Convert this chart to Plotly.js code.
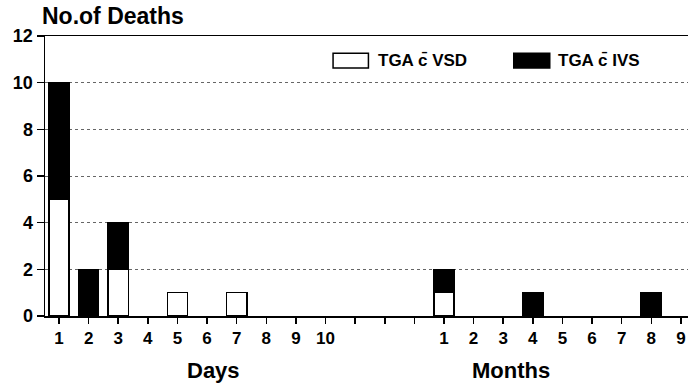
<!DOCTYPE html>
<html>
<head>
<meta charset="utf-8">
<script src="https://cdn.plot.ly/plotly-3.0.1.min.js"></script>
<style>html,body{margin:0;padding:0;background:#fff;}#chart{width:690px;height:384px;}</style>
</head>
<body>
<div id="chart"></div>
<script>
// Category positions: Days 1-10, three unlabeled gap ticks, Months 1-9
const tickLabels = ["1","2","3","4","5","6","7","8","9","10","","","","1","2","3","4","5","6","7","8","9"];
const positions = tickLabels.map((_, i) => i);
const vsdDeaths = [5,0,2,0,1,0,1,0,0,0, 0,0,0, 1,0,0,0,0,0,0,0,0];
const ivsDeaths = [5,2,2,0,0,0,0,0,0,0, 0,0,0, 1,0,0,1,0,0,0,1,0];
const seriesNames = ["TGA c\u0304 VSD", "TGA c\u0304 IVS"];
const yTicks = [0,2,4,6,8,10,12];

const font = {family: "Liberation Sans, Arial, sans-serif", color: "#000"};
const nz = v => (v === 0 ? null : v);

const traces = [
  {type: "bar", x: positions, y: vsdDeaths.map(nz), name: seriesNames[0], width: 0.68,
   marker: {color: "#fff", line: {color: "#000", width: 1.5}}, showlegend: false, hoverinfo: "skip"},
  {type: "bar", x: positions, y: ivsDeaths.map(nz), name: seriesNames[1], width: 0.68,
   marker: {color: "#000", line: {color: "#000", width: 1.5}}, showlegend: false, hoverinfo: "skip"}
];

const layout = {
  width: 690, height: 384,
  margin: {l: 45, r: 2, t: 36, b: 68},
  paper_bgcolor: "#fff", plot_bgcolor: "#fff",
  barmode: "stack",
  font: font,
  xaxis: {
    range: [-0.473, 21.24], tickmode: "array", tickvals: positions, ticktext: tickLabels,
    ticks: "outside", ticklen: 6, tickwidth: 1.5, tickcolor: "#000",
    showline: true, linecolor: "#000", linewidth: 1.5, mirror: true,
    showgrid: false, zeroline: false,
    tickfont: {family: font.family, size: 17, color: "#000", weight: "bold"}
  },
  yaxis: {
    range: [0, 12], tickmode: "array", tickvals: yTicks,
    ticks: "outside", ticklen: 7, tickwidth: 1.5, tickcolor: "#000",
    showline: true, linecolor: "#000", linewidth: 1.5,
    showgrid: true, gridcolor: "#666", griddash: "dot", gridwidth: 1,
    zeroline: false,
    tickfont: {family: font.family, size: 18, color: "#000", weight: "bold"}
  },
  shapes: [
    {type: "rect", xref: "paper", yref: "paper", x0: 0.448, x1: 0.503, y0: 0.886, y1: 0.938,
     fillcolor: "#fff", line: {color: "#000", width: 1.5}},
    {type: "rect", xref: "paper", yref: "paper", x0: 0.729, x1: 0.785, y0: 0.886, y1: 0.938,
     fillcolor: "#000", line: {color: "#000", width: 1.5}}
  ],
  annotations: [
    {text: "<b>No.of Deaths</b>", xref: "paper", yref: "paper", x: -0.008, y: 1.0, yshift: 5,
     xanchor: "left", yanchor: "bottom", showarrow: false, font: {family: font.family, size: 23, color: "#000"}},
    {text: "<b>" + seriesNames[0] + "</b>", xref: "paper", yref: "paper", x: 0.515, y: 0.912,
     xanchor: "left", yanchor: "middle", showarrow: false, font: {family: font.family, size: 17, color: "#000"}},
    {text: "<b>" + seriesNames[1] + "</b>", xref: "paper", yref: "paper", x: 0.794, y: 0.912,
     xanchor: "left", yanchor: "middle", showarrow: false, font: {family: font.family, size: 17, color: "#000"}},
    {text: "<b>Days</b>", xref: "x", yref: "paper", x: 5.23, y: 0, yshift: -40,
     xanchor: "center", yanchor: "top", showarrow: false, font: {family: font.family, size: 22, color: "#000"}},
    {text: "<b>Months</b>", xref: "x", yref: "paper", x: 15.26, y: 0, yshift: -40,
     xanchor: "center", yanchor: "top", showarrow: false, font: {family: font.family, size: 22, color: "#000"}}
  ]
};

Plotly.newPlot("chart", traces, layout, {displayModeBar: false, staticPlot: true});
</script>
</body>
</html>
